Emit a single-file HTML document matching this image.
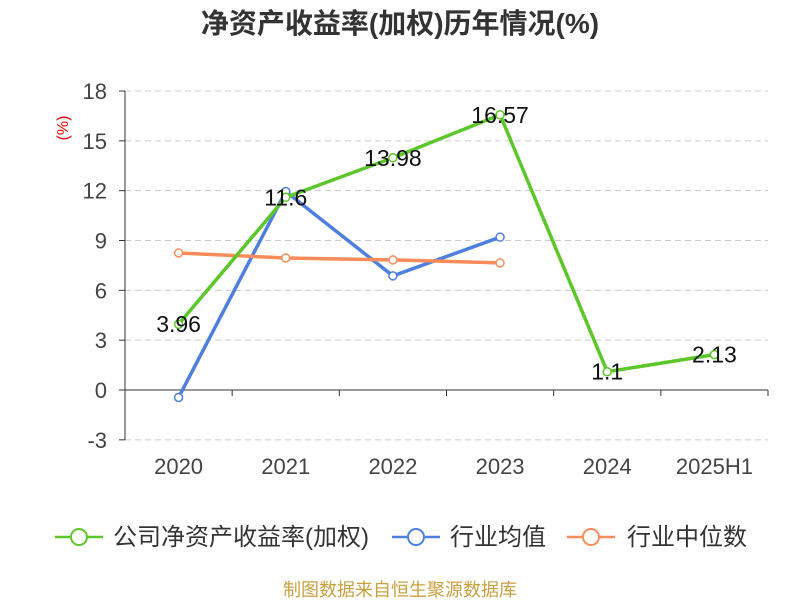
<!DOCTYPE html>
<html><head><meta charset="utf-8"><style>
body{margin:0;background:#fff;font-family:"Liberation Sans","Noto Sans CJK SC",sans-serif}
</style></head><body>
<svg width="800" height="600" xmlns="http://www.w3.org/2000/svg" font-family="Liberation Sans, Noto Sans CJK SC, sans-serif">
<text x="400" y="33" text-anchor="middle" font-size="28" font-weight="bold" fill="#333">净资产收益率(加权)历年情况(%)</text>
<text x="68" y="128" text-anchor="middle" font-size="16" fill="#e00" transform="rotate(-90 68 128)">(%)</text>
<g id="grid"></g><g id="axes"></g><g id="series"></g>
<g font-size="24" fill="#333">
<g><line x1="55" y1="537" x2="103" y2="537" stroke="#5cc72a" stroke-width="2.5"/><circle cx="79" cy="537" r="8" fill="#fff" stroke="#5cc72a" stroke-width="2"/><text x="113" y="545">公司净资产收益率(加权)</text></g>
<g><line x1="392" y1="537" x2="440" y2="537" stroke="#4e7fe0" stroke-width="2.5"/><circle cx="416" cy="537" r="8" fill="#fff" stroke="#4e7fe0" stroke-width="2"/><text x="450" y="545">行业均值</text></g>
<g><line x1="567" y1="537" x2="615" y2="537" stroke="#f98c5a" stroke-width="2.5"/><circle cx="591" cy="537" r="8" fill="#fff" stroke="#f98c5a" stroke-width="2"/><text x="627" y="545">行业中位数</text></g>
</g>
<text x="400" y="596" text-anchor="middle" font-size="18" fill="#c8a040">制图数据来自恒生聚源数据库</text>
</svg>
<script>
const categories=["2020","2021","2022","2023","2024","2025H1"];
const companyVals=[3.96,11.6,13.98,16.57,1.1,2.13];
const avgVals=[-0.45,11.95,6.87,9.2];
const medianVals=[8.25,7.95,7.83,7.65];
const yTicks=[-3,0,3,6,9,12,15,18];
const NS="http://www.w3.org/2000/svg";
const L=125,R=768,band=(R-L)/categories.length;
const x=i=>L+band*(i+0.5);
const y=v=>390-v*(299/18);
function mk(t,a,p){const e=document.createElementNS(NS,t);for(const k in a)e.setAttribute(k,a[k]);p.appendChild(e);return e;}
const grid=document.getElementById('grid'),axes=document.getElementById('axes'),ser=document.getElementById('series');
yTicks.forEach(v=>{
 const g=mk('line',{x1:L,x2:R,y1:y(v),y2:y(v),stroke:'#ccc','stroke-dasharray':'6,4'},grid);
 
 
 const t=mk('text',{x:107,y:y(v)+8,'text-anchor':'end','font-size':22,fill:'#444'},axes);
 t.textContent=v;
 
 
 const tk=mk('line',{x1:L-6,x2:L,y1:y(v),y2:y(v),stroke:'#333'},axes);
 
 
});
const ya=mk('line',{x1:L,x2:L,y1:y(18),y2:y(-3),stroke:'#333'},axes);


const xa=mk('line',{x1:L,x2:R,y1:y(0),y2:y(0),stroke:'#333'},axes);


categories.forEach((c,i)=>{
 const tk=mk('line',{x1:L+band*(i+1),x2:L+band*(i+1),y1:y(0),y2:y(0)+6,stroke:'#333'},axes);
 
 
 const t=mk('text',{x:x(i),y:474,'text-anchor':'middle','font-size':22,fill:'#444'},axes);
 t.textContent=c;
 
 
});
function series(vals,color,name){
 const pl=mk('polyline',{points:vals.map((v,i)=>x(i)+','+y(v)).join(' '),fill:'none',stroke:color,'stroke-width':3.5},ser);
 
 
 vals.forEach((v,i)=>{
  const c=mk('circle',{cx:x(i),cy:y(v),r:4,fill:'#fff',stroke:color,'stroke-width':1.5},ser);
  
  
 });
}
series(avgVals,'#4e7fe0','industry-avg');
series(medianVals,'#f98c5a','industry-median');
series(companyVals,'#5cc72a','company');
companyVals.forEach((v,i)=>{
 const t=mk('text',{x:x(i),y:y(v)+8,'text-anchor':'middle','font-size':23,fill:'#111'},ser);
 t.textContent=v;
 
 
});
</script>
</body></html>
